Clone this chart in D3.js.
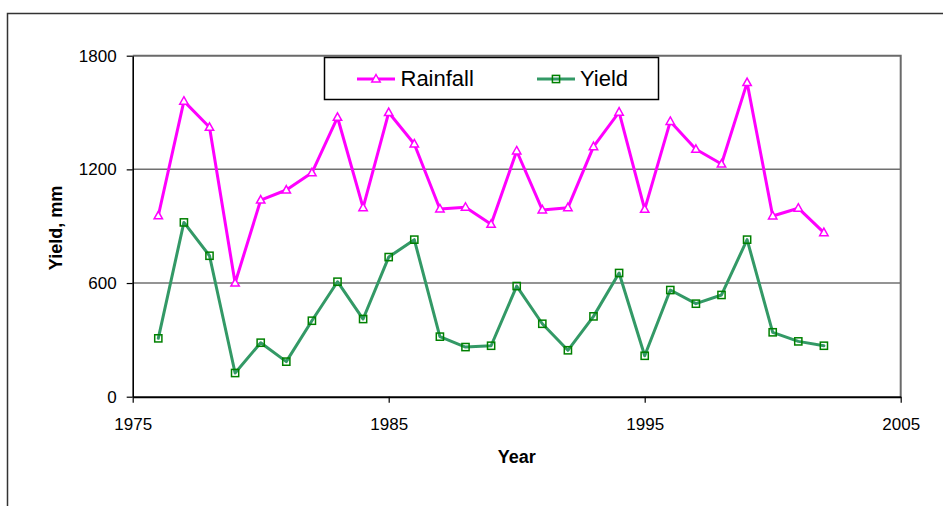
<!DOCTYPE html>
<html>
<head>
<meta charset="utf-8">
<script src="https://cdn.jsdelivr.net/npm/d3@7"></script>
<style>
  html, body { margin: 0; padding: 0; background: #fff; }
  svg { display: block; font-family: "Liberation Sans", Arial, sans-serif; }
</style>
</head>
<body>
<svg id="chart" width="943" height="506"></svg>
<script>
// Annual series, 1976-2002
const years = [1976, 1977, 1978, 1979, 1980, 1981, 1982, 1983, 1984, 1985,
               1986, 1987, 1988, 1989, 1990, 1991, 1992, 1993, 1994, 1995,
               1996, 1997, 1998, 1999, 2000, 2001, 2002];
const rainfall = [955, 1560, 1422, 600, 1038, 1091, 1182, 1475, 998, 1500,
                  1334, 991, 1000, 910, 1297, 986, 998, 1320, 1502, 989,
                  1453, 1306, 1228, 1658, 954, 995, 866];
const yieldVals = [308, 920, 744, 125, 285, 185, 401, 607, 410, 737,
                   829, 317, 262, 269, 584, 385, 245, 424, 653, 216,
                   563, 491, 537, 829, 340, 292, 269];
const xTicks = [1975, 1985, 1995, 2005];
const yTicks = [0, 600, 1200, 1800];
const seriesNames = ["Rainfall", "Yield"];

const svg = d3.select("#chart");
const plotL = 132.7, plotR = 900.7, plotT = 55.7, plotB = 396.7;

const x = d3.scaleLinear().domain([1975, 2005]).range([plotL, plotR]);
const y = d3.scaleLinear().domain([0, 1800]).range([plotB, plotT]);

// outer chart frame
svg.append("rect")
  .attr("x", 7.5).attr("y", 13.5).attr("width", 1000).attr("height", 600)
  .attr("fill", "none").attr("stroke", "#333").attr("stroke-width", 1.5);

// horizontal gridlines
svg.append("g").selectAll("line")
  .data(yTicks.filter(v => v > 0 && v < 1800))
  .join("line")
  .attr("x1", plotL).attr("x2", plotR)
  .attr("y1", d => y(d)).attr("y2", d => y(d))
  .attr("stroke", "#707070").attr("stroke-width", 1.5);

// plot area top and right border
svg.append("path")
  .attr("d", `M${plotL},${y(1800)}H${plotR}V${plotB}`)
  .attr("fill", "none").attr("stroke", "#6a6a6a").attr("stroke-width", 2);

// axes
const yAxis = svg.append("g")
  .attr("transform", `translate(${plotL},0)`)
  .call(d3.axisLeft(y).tickValues(yTicks).tickFormat(d3.format("d"))
    .tickSize(6).tickPadding(10).tickSizeOuter(0));
const xAxis = svg.append("g")
  .attr("transform", `translate(0,${plotB})`)
  .call(d3.axisBottom(x).tickValues(xTicks).tickFormat(d3.format("d"))
    .tickSize(6).tickPadding(15).tickSizeOuter(0));

[yAxis, xAxis].forEach(g => {
  g.selectAll("text").attr("font-size", 17).attr("fill", "#000")
    .attr("font-family", "Liberation Sans, Arial, sans-serif");
  g.selectAll("line").attr("stroke", "#000").attr("stroke-width", 1.2);
});
yAxis.select(".domain").attr("stroke", "#000").attr("stroke-width", 1.6);
xAxis.select(".domain").attr("stroke", "#000").attr("stroke-width", 2);

// axis titles
svg.append("text")
  .attr("x", (plotL + plotR) / 2).attr("y", 463)
  .attr("text-anchor", "middle").attr("font-weight", "bold").attr("font-size", 18)
  .text("Year");
svg.append("text")
  .attr("transform", `translate(62,228) rotate(-90)`)
  .attr("text-anchor", "middle").attr("font-weight", "bold").attr("font-size", 18)
  .text("Yield, mm");

const rainColor = "#ff00ff";
const yieldColor = "#339966";
const yieldMarker = "#008000";
const triPath = "M0,-4.5L4.2,3L-4.2,3Z";

const line = d3.line().x(d => x(d[0])).y(d => y(d[1]));

// Rainfall series
const rainData = years.map((yr, i) => [yr, rainfall[i]]);
svg.append("path").datum(rainData)
  .attr("d", line).attr("fill", "none")
  .attr("stroke", rainColor).attr("stroke-width", 3).attr("stroke-linejoin", "round");
svg.append("g").selectAll("path").data(rainData).join("path")
  .attr("transform", d => `translate(${x(d[0])},${y(d[1])})`)
  .attr("d", triPath).attr("fill", "#fff")
  .attr("stroke", rainColor).attr("stroke-width", 1.5);

// Yield series
const yieldData = years.map((yr, i) => [yr, yieldVals[i]]);
svg.append("path").datum(yieldData)
  .attr("d", line).attr("fill", "none")
  .attr("stroke", yieldColor).attr("stroke-width", 3).attr("stroke-linejoin", "round")
  .attr("stroke-linecap", "round");
svg.append("g").selectAll("rect").data(yieldData).join("rect")
  .attr("x", d => x(d[0]) - 3.6).attr("y", d => y(d[1]) - 3.6)
  .attr("width", 7.2).attr("height", 7.2)
  .attr("fill", "none").attr("stroke", yieldMarker).attr("stroke-width", 1.5);

// legend
const legend = svg.append("g");
legend.append("rect")
  .attr("x", 324.5).attr("y", 57.5).attr("width", 334).attr("height", 42)
  .attr("fill", "#fff").attr("stroke", "#000").attr("stroke-width", 1.5);
const ly = 79;
legend.append("line").attr("x1", 357).attr("x2", 395).attr("y1", ly).attr("y2", ly)
  .attr("stroke", rainColor).attr("stroke-width", 3);
legend.append("path").attr("transform", `translate(376,${ly})`)
  .attr("d", triPath).attr("fill", "#fff").attr("stroke", rainColor).attr("stroke-width", 1.5);
legend.append("text").attr("x", 400.5).attr("y", 85.8).attr("font-size", 22)
  .text(seriesNames[0]);
legend.append("line").attr("x1", 537).attr("x2", 575).attr("y1", ly).attr("y2", ly)
  .attr("stroke", yieldColor).attr("stroke-width", 3);
legend.append("rect").attr("x", 556 - 3.6).attr("y", ly - 3.6).attr("width", 7.2).attr("height", 7.2)
  .attr("fill", "none").attr("stroke", yieldMarker).attr("stroke-width", 1.5);
legend.append("text").attr("x", 580).attr("y", 85.8).attr("font-size", 22)
  .text(seriesNames[1]);
</script>
</body>
</html>
